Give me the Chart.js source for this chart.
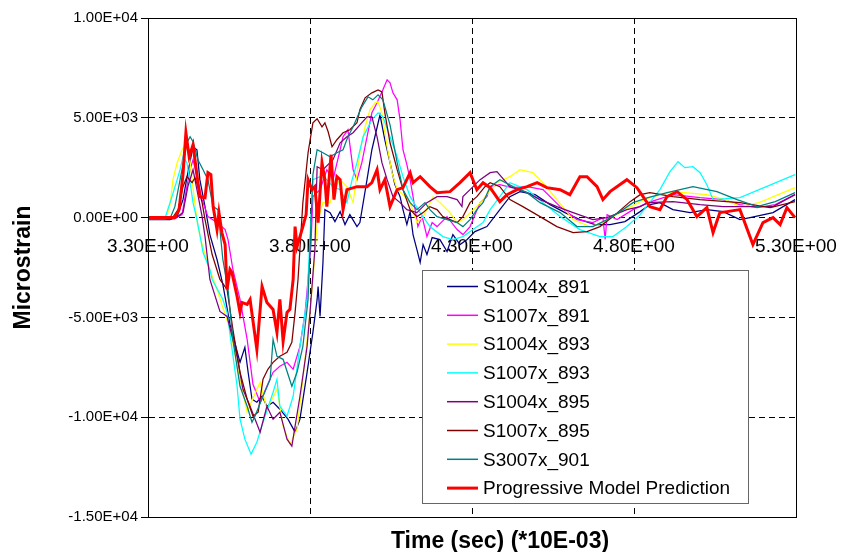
<!DOCTYPE html>
<html>
<head>
<meta charset="utf-8">
<script src="https://cdn.jsdelivr.net/npm/chart.js@4.4.1/dist/chart.umd.min.js"></script>
<style>
  body { margin: 0; background: #fff; }
</style>
</head>
<body>
<canvas id="strainChart" width="844" height="552"></canvas>
<script>
// tick values (time in *10E-03 sec, strain in microstrain)
const xTicks = [3.3, 3.8, 4.3, 4.8, 5.3];
const yTicks = [-15000, -10000, -5000, 0, 5000, 10000];

const seriesNames = ['S1004x_891', 'S1007x_891', 'S1004x_893', 'S1007x_893',
  'S1004x_895', 'S1007x_895', 'S3007x_901', 'Progressive Model Prediction'];
const seriesColors = ['#000080', '#FF00FF', '#FFFF00', '#00FFFF', '#800080', '#800000', '#008080', '#FF0000'];

// [time, microstrain]
const s1004x891 = [[3.300,-100],[3.368,-100],[3.390,50],[3.408,900],[3.423,2250],[3.439,3550],[3.451,3400],[3.460,1900],[3.476,550],[3.491,-850],[3.513,-2100],[3.531,-3350],[3.553,-5350],[3.584,-7250],[3.599,-6500],[3.609,-7750],[3.621,-9100],[3.636,-9250],[3.652,-8950],[3.667,-9450],[3.686,-9250],[3.707,-9600],[3.732,-10100],[3.754,-10750],[3.769,-10100],[3.791,-7750],[3.809,-5750],[3.822,-4100],[3.825,-3450],[3.831,-4950],[3.840,-2250],[3.846,400],[3.862,250],[3.877,-200],[3.893,300],[3.908,-350],[3.923,150],[3.945,-450],[3.954,-250],[3.976,1900],[3.991,3400],[4.016,5150],[4.031,3900],[4.047,2750],[4.062,1650],[4.078,1050],[4.087,400],[4.099,-350],[4.109,300],[4.118,-850],[4.130,-1600],[4.140,-2250],[4.149,-1350],[4.161,-1850],[4.177,-1000],[4.201,-1100],[4.223,-1700],[4.241,-850],[4.263,-1350],[4.285,-1100],[4.309,-700],[4.346,-450],[4.386,400],[4.417,1050],[4.448,1300],[4.495,1150],[4.541,650],[4.587,250],[4.633,-100],[4.680,-350],[4.726,-350],[4.772,-200],[4.819,300],[4.849,650],[4.880,750],[4.920,400],[4.973,250],[5.025,400],[5.075,300],[5.127,-100],[5.158,0],[5.229,250],[5.297,900]];

const s1007x891 = [[3.300,-50],[3.383,-50],[3.405,150],[3.420,1550],[3.430,2400],[3.439,2900],[3.451,2050],[3.467,900],[3.485,50],[3.513,-250],[3.538,-600],[3.547,-1100],[3.562,-2600],[3.584,-4100],[3.606,-6100],[3.624,-8350],[3.646,-9250],[3.667,-8450],[3.686,-7750],[3.707,-7450],[3.729,-7250],[3.748,-7600],[3.769,-6450],[3.785,-4750],[3.794,-3100],[3.803,-1350],[3.809,1050],[3.831,1400],[3.852,2400],[3.871,1900],[3.893,3400],[3.902,4050],[3.917,4400],[3.933,2400],[3.945,1900],[3.960,2750],[3.976,4050],[3.991,5250],[4.007,5750],[4.025,6400],[4.038,6900],[4.047,6750],[4.056,6250],[4.069,5900],[4.078,4900],[4.087,3400],[4.099,2650],[4.109,1900],[4.118,1050],[4.133,-450],[4.146,50],[4.161,-950],[4.177,-250],[4.192,-450],[4.223,50],[4.254,-600],[4.272,-850],[4.294,-450],[4.325,750],[4.346,1050],[4.356,1550],[4.386,1650],[4.423,1500],[4.470,1550],[4.519,1400],[4.572,550],[4.624,-100],[4.673,-250],[4.704,0],[4.711,-1100],[4.717,150],[4.748,-100],[4.797,400],[4.843,750],[4.920,1150],[5.004,1000],[5.075,900],[5.127,650],[5.180,500],[5.236,650],[5.297,1150]];

const s1004x893 = [[3.300,-50],[3.356,-50],[3.368,650],[3.377,1900],[3.390,2750],[3.405,3400],[3.417,3650],[3.427,3150],[3.436,1900],[3.445,650],[3.454,-450],[3.467,-1350],[3.491,-2600],[3.513,-3600],[3.553,-5600],[3.584,-8100],[3.606,-9750],[3.636,-8600],[3.646,-8250],[3.667,-9600],[3.698,-8600],[3.717,-10450],[3.738,-11350],[3.760,-10600],[3.778,-8100],[3.800,-4750],[3.809,-3100],[3.822,-250],[3.840,750],[3.862,750],[3.877,1500],[3.893,1900],[3.914,1550],[3.933,750],[3.954,3250],[3.970,4550],[3.985,5400],[4.001,5750],[4.010,5800],[4.022,5250],[4.038,3550],[4.053,2250],[4.069,1400],[4.087,1150],[4.109,750],[4.130,-250],[4.149,50],[4.180,1050],[4.201,750],[4.232,250],[4.254,-250],[4.272,-100],[4.294,250],[4.315,550],[4.346,1150],[4.377,1750],[4.417,2050],[4.448,2400],[4.488,2250],[4.519,1750],[4.562,900],[4.612,-100],[4.664,-450],[4.704,-250],[4.757,250],[4.819,800],[4.849,1000],[4.920,1300],[5.025,1150],[5.081,900],[5.127,550],[5.186,750],[5.297,1500]];

const s1007x893 = [[3.300,-50],[3.352,-50],[3.374,1050],[3.390,1900],[3.399,2400],[3.408,3050],[3.420,2750],[3.430,1750],[3.439,750],[3.451,-100],[3.460,-850],[3.470,-1750],[3.491,-2600],[3.498,-3100],[3.531,-4100],[3.544,-4750],[3.575,-8450],[3.584,-10100],[3.599,-11100],[3.618,-11850],[3.636,-11250],[3.655,-10250],[3.686,-8750],[3.698,-8100],[3.707,-9450],[3.729,-9950],[3.748,-8950],[3.769,-6450],[3.791,-4100],[3.800,-950],[3.809,1900],[3.831,2050],[3.852,1900],[3.871,1550],[3.893,1400],[3.914,750],[3.930,1900],[3.945,2750],[3.964,4050],[3.991,4900],[4.010,5250],[4.025,5050],[4.047,4050],[4.069,3050],[4.087,2050],[4.109,1050],[4.140,250],[4.170,-450],[4.210,-950],[4.241,-1100],[4.272,-950],[4.303,-600],[4.334,-250],[4.356,400],[4.386,1050],[4.417,1750],[4.470,1400],[4.519,750],[4.572,50],[4.633,-600],[4.695,-950],[4.735,-950],[4.778,-450],[4.819,150],[4.880,1400],[4.911,2300],[4.936,2800],[4.957,2500],[4.982,2550],[5.004,2250],[5.025,1650],[5.044,900],[5.127,1000],[5.297,2150]];

const s1004x895 = [[3.300,-50],[3.383,-50],[3.408,250],[3.423,1550],[3.439,2400],[3.451,1400],[3.467,50],[3.476,-950],[3.491,-3100],[3.522,-4700],[3.544,-4950],[3.575,-6950],[3.593,-8600],[3.615,-9450],[3.646,-10750],[3.667,-9450],[3.686,-10100],[3.707,-9750],[3.729,-11100],[3.744,-11450],[3.754,-10450],[3.769,-8950],[3.791,-6450],[3.800,-4750],[3.815,-1600],[3.822,2550],[3.840,2400],[3.871,2900],[3.893,3750],[3.914,4050],[3.933,4250],[3.954,4650],[3.976,5050],[3.991,5050],[4.007,4050],[4.022,2750],[4.038,1900],[4.056,1050],[4.078,750],[4.099,400],[4.130,250],[4.161,750],[4.192,1050],[4.223,1050],[4.254,900],[4.269,550],[4.272,1050],[4.294,1400],[4.325,1900],[4.356,2250],[4.377,2300],[4.417,1550],[4.470,1250],[4.510,900],[4.562,550],[4.612,250],[4.673,-100],[4.717,0],[4.778,400],[4.819,550],[4.843,750],[4.920,800],[5.004,650],[5.075,550],[5.158,550],[5.229,550],[5.297,1150]];

const s1007x895 = [[3.300,-50],[3.374,-50],[3.393,400],[3.408,1550],[3.420,2050],[3.436,1750],[3.445,2000],[3.454,1550],[3.467,750],[3.476,-100],[3.498,-1850],[3.522,-3100],[3.544,-3600],[3.562,-5600],[3.584,-7750],[3.606,-9100],[3.624,-9950],[3.640,-9750],[3.655,-8100],[3.670,-7600],[3.686,-7250],[3.707,-6950],[3.729,-6750],[3.744,-6250],[3.754,-4750],[3.763,-3100],[3.778,750],[3.794,3250],[3.809,4750],[3.822,4950],[3.837,4550],[3.846,4750],[3.856,4300],[3.868,3550],[3.883,3900],[3.902,4250],[3.923,4400],[3.945,4750],[3.954,5400],[3.970,6000],[3.991,6250],[4.010,6400],[4.022,6300],[4.031,5250],[4.047,3750],[4.069,2400],[4.087,1400],[4.109,400],[4.130,50],[4.149,250],[4.170,550],[4.192,400],[4.210,50],[4.232,-100],[4.254,-250],[4.272,50],[4.294,750],[4.315,1050],[4.340,1550],[4.356,1750],[4.386,1550],[4.417,900],[4.457,550],[4.510,50],[4.562,-450],[4.612,-750],[4.655,-700],[4.695,-450],[4.735,50],[4.788,800],[4.819,1150],[4.849,1250],[4.920,1050],[5.004,900],[5.127,750],[5.220,500],[5.297,800]];

const s3007x901 = [[3.300,-50],[3.368,-50],[3.383,550],[3.405,2400],[3.420,3750],[3.430,4050],[3.439,3800],[3.454,2900],[3.470,2400],[3.485,1900],[3.501,550],[3.516,400],[3.531,-2100],[3.547,-3600],[3.562,-6100],[3.584,-8450],[3.606,-9450],[3.621,-10250],[3.630,-9950],[3.655,-8950],[3.677,-8100],[3.686,-6100],[3.698,-6950],[3.717,-7100],[3.744,-8450],[3.760,-7750],[3.778,-6450],[3.794,-4100],[3.800,-1600],[3.809,2150],[3.822,3400],[3.840,3250],[3.862,3050],[3.883,3250],[3.902,3400],[3.917,4050],[3.933,4550],[3.960,5550],[3.979,6050],[3.994,5900],[4.010,6150],[4.025,5900],[4.047,4650],[4.069,2750],[4.087,1400],[4.109,750],[4.130,400],[4.155,750],[4.170,400],[4.192,50],[4.223,-100],[4.254,-250],[4.272,-450],[4.294,-100],[4.315,400],[4.334,750],[4.356,1550],[4.386,1900],[4.427,1550],[4.470,1250],[4.510,750],[4.572,250],[4.624,-450],[4.673,-450],[4.717,-100],[4.757,300],[4.797,750],[4.843,1000],[4.902,1250],[4.982,1550],[5.056,1300],[5.118,900],[5.180,550],[5.236,800],[5.297,1250]];

const modelPrediction = [[3.300,0],[3.383,0],[3.396,400],[3.408,2150],[3.417,4250],[3.427,3050],[3.439,3650],[3.451,2150],[3.460,1050],[3.476,1000],[3.485,2250],[3.494,2150],[3.501,550],[3.513,-600],[3.519,250],[3.528,-750],[3.538,-1350],[3.544,-3600],[3.553,-2600],[3.559,-2750],[3.575,-3950],[3.584,-4750],[3.590,-4250],[3.606,-4350],[3.615,-4100],[3.636,-6600],[3.652,-3450],[3.667,-4250],[3.686,-4600],[3.698,-5750],[3.707,-4100],[3.717,-6200],[3.729,-4750],[3.738,-4600],[3.748,-3100],[3.754,-450],[3.760,-1450],[3.769,-950],[3.778,-450],[3.788,150],[3.794,1900],[3.806,1400],[3.815,1550],[3.825,-250],[3.837,2750],[3.846,1900],[3.852,550],[3.865,3150],[3.874,900],[3.883,2050],[3.893,1900],[3.902,400],[3.914,1400],[3.945,1550],[3.976,1550],[3.991,1750],[4.007,2400],[4.016,1400],[4.031,1900],[4.047,550],[4.069,1400],[4.087,1500],[4.109,2250],[4.118,1750],[4.140,2050],[4.170,1550],[4.192,1250],[4.232,1300],[4.263,1750],[4.294,2250],[4.315,1400],[4.334,1750],[4.356,1500],[4.386,800],[4.408,1150],[4.439,1400],[4.470,1550],[4.501,1750],[4.531,1500],[4.572,1400],[4.602,1150],[4.633,2050],[4.655,2050],[4.686,1550],[4.704,900],[4.726,1300],[4.778,1900],[4.809,1500],[4.828,1050],[4.849,550],[4.880,400],[4.902,1050],[4.933,1300],[4.964,900],[4.994,50],[5.025,500],[5.044,-750],[5.065,250],[5.087,300],[5.127,400],[5.167,-1350],[5.198,-250],[5.229,0],[5.251,-350],[5.272,500],[5.297,0]];

const allSeries = [s1004x891, s1007x891, s1004x893, s1007x893, s1004x895, s1007x895, s3007x901, modelPrediction];

const FONT = '"Liberation Sans", Arial, sans-serif';

// 10000 -> "1.00E+04"
function sci(v) {
  if (Math.abs(v) < 1e-9) return '0.00E+00';
  const e = Math.floor(Math.log10(Math.abs(v)) + 1e-9);
  const m = v / Math.pow(10, e);
  return m.toFixed(2) + 'E' + (e < 0 ? '-' : '+') + String(Math.abs(e)).padStart(2, '0');
}

const datasets = allSeries.map((s, i) => {
  const isModel = i === allSeries.length - 1;
  return {
    label: seriesNames[i],
    data: s.map(p => ({ x: p[0], y: p[1] })),
    borderColor: seriesColors[i],
    backgroundColor: seriesColors[i],
    borderWidth: isModel ? 3 : 1.25,
    pointRadius: 0,
    tension: 0,
    fill: false,
    order: isModel ? 0 : allSeries.length - 1 - i
  };
});

// x labels sit on the zero line, frame, legend box and axis titles
const extras = {
  id: 'extras',
  beforeDatasetsDraw(chart) {
    const { ctx, scales: { x, y } } = chart;
    const y0 = y.getPixelForValue(0);
    ctx.save();
    ctx.font = '19px ' + FONT;
    ctx.fillStyle = '#000';
    ctx.textAlign = 'center';
    ctx.textBaseline = 'alphabetic';
    xTicks.forEach(v => ctx.fillText(sci(v), x.getPixelForValue(v), y0 + 34));
    ctx.restore();
  },
  afterDraw(chart) {
    const { ctx, chartArea: a } = chart;
    ctx.save();
    ctx.strokeStyle = '#000';
    ctx.lineWidth = 1;
    ctx.strokeRect(a.left + 0.5, a.top + 0.5, a.right - a.left, a.bottom - a.top);

    // legend
    const lx = 422, ly = 270, lw = 326, lh = 233;
    ctx.fillStyle = '#fff';
    ctx.fillRect(lx, ly, lw, lh);
    ctx.strokeStyle = '#666';
    ctx.strokeRect(lx + 0.5, ly + 0.5, lw, lh);
    ctx.font = '19px ' + FONT;
    ctx.textAlign = 'left';
    ctx.textBaseline = 'middle';
    chart.data.datasets.forEach((ds, i) => {
      const ry = 286.5 + i * 28.8;
      ctx.strokeStyle = ds.borderColor;
      ctx.lineWidth = ds.borderWidth > 2 ? 3 : 1.5;
      ctx.beginPath();
      ctx.moveTo(447, ry);
      ctx.lineTo(478, ry);
      ctx.stroke();
      ctx.fillStyle = '#000';
      ctx.fillText(ds.label, 483, ry + 1);
    });

    // axis titles
    ctx.fillStyle = '#000';
    ctx.font = 'bold 23px ' + FONT;
    ctx.textAlign = 'center';
    ctx.textBaseline = 'alphabetic';
    ctx.fillText('Time (sec) (*10E-03)', 500, 548);
    ctx.translate(30, (a.top + a.bottom) / 2);
    ctx.rotate(-Math.PI / 2);
    ctx.fillText('Microstrain', 0, 0);
    ctx.restore();
  }
};

new Chart(document.getElementById('strainChart'), {
  type: 'line',
  data: { datasets: datasets },
  options: {
    responsive: false,
    animation: false,
    events: [],
    layout: { padding: { top: 18, right: 48, bottom: 0, left: 0 } },
    plugins: { legend: { display: false }, tooltip: { enabled: false } },
    scales: {
      x: {
        type: 'linear',
        min: 3.3,
        max: 5.3,
        afterBuildTicks: s => { s.ticks = xTicks.map(v => ({ value: v })); },
        afterFit: s => { s.height = 35; },
        ticks: { display: false },
        grid: { color: '#000', lineWidth: 1, drawTicks: false },
        border: { display: true, color: '#000', dash: [6, 4] }
      },
      y: {
        type: 'linear',
        min: -15000,
        max: 10000,
        afterBuildTicks: s => { s.ticks = yTicks.map(v => ({ value: v })); },
        afterFit: s => { s.width = 148; },
        ticks: {
          callback: v => sci(v),
          color: '#000',
          padding: 3,
          font: { family: FONT, size: 15 }
        },
        grid: { color: '#000', lineWidth: 1, drawTicks: true, tickLength: 7, tickColor: '#000', tickBorderDash: [] },
        border: { display: true, color: '#000', dash: [6, 4] }
      }
    }
  },
  plugins: [extras]
});
</script>
</body>
</html>
